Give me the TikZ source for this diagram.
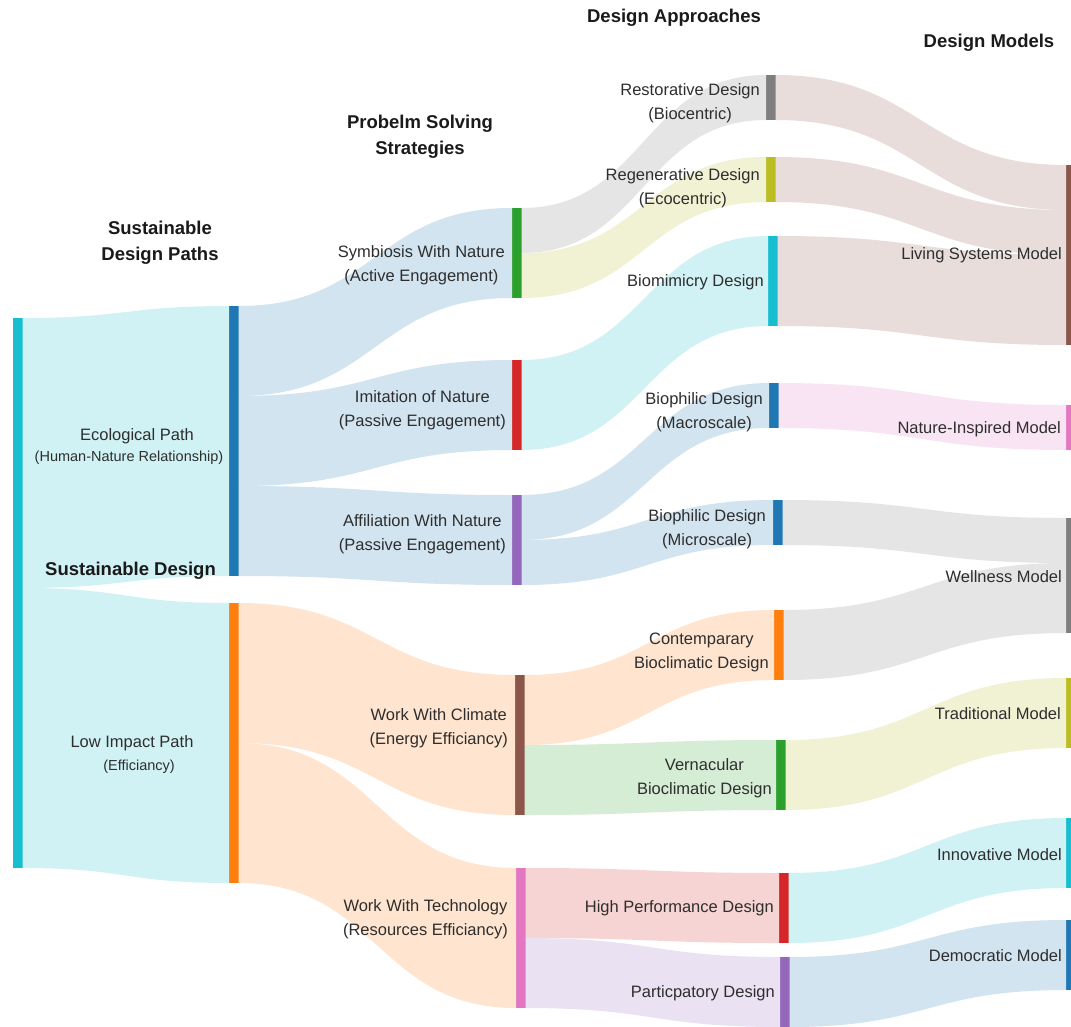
\documentclass[tikz,border=0pt]{standalone}
\usepackage{fontspec}
\setmainfont{Liberation Sans}
\usetikzlibrary{calc}
\definecolor{cC}{HTML}{17BECF}
\definecolor{cB}{HTML}{1F77B4}
\definecolor{cO}{HTML}{FF7F0E}
\definecolor{cG}{HTML}{2CA02C}
\definecolor{cR}{HTML}{D62728}
\definecolor{cP}{HTML}{9467BD}
\definecolor{cBr}{HTML}{8C564B}
\definecolor{cPk}{HTML}{E377C2}
\definecolor{cGy}{HTML}{7F7F7F}
\definecolor{cOl}{HTML}{BCBD22}
\definecolor{txt}{HTML}{2E2E2E}
\definecolor{hd}{HTML}{1A1A1A}
\tikzset{
  bar/.style={rectangle, inner sep=0pt, outer sep=0pt, minimum width=9.5pt, draw=none},
  lbl/.style={font=\fontsize{16.5}{24}\selectfont, text=txt, align=center, inner sep=0pt},
  sublbl/.style={font=\fontsize{14.5}{20}\selectfont, text=txt, align=center, inner sep=0pt},
  hdr/.style={font=\bfseries\fontsize{18.5}{26}\selectfont, text=hd, align=center, inner sep=0pt},
}
% bar: name, colour, left x, top y, bottom y
\newcommand\sbar[5]{\node[bar, fill=#2, minimum height={(#5-#4)*1pt}] (#1) at ({#3+4.75},{(#4+#5)/2}) {};}
% flow: source, offset on source, target, offset on target, width, colour
\newcommand\sflow[6]{%
  \fill[#6] let \p1=(#1.north east), \p2=(#3.north west) in
   (\x1,\y1-#2pt) .. controls ({(\x1+\x2)/2},\y1-#2pt) and ({(\x1+\x2)/2},\y2-#4pt) .. (\x2,\y2-#4pt)
   -- (\x2,\y2-#4pt-#5pt) .. controls ({(\x1+\x2)/2},\y2-#4pt-#5pt) and ({(\x1+\x2)/2},\y1-#2pt-#5pt) .. (\x1,\y1-#2pt-#5pt) -- cycle;}
\begin{document}
\begin{tikzpicture}[x=1pt,y=-1pt]
\useasboundingbox[fill=white] (0,0) rectangle (1071,1026);
% bars
\sbar{sd}{cC}{13}{318}{868}
\sbar{eco}{cB}{229}{306}{576}
\sbar{low}{cO}{229}{603}{883}
\sbar{sym}{cG}{512}{208}{298}
\sbar{imi}{cR}{512}{360}{450}
\sbar{aff}{cP}{512}{495}{585}
\sbar{clim}{cBr}{515}{675}{815}
\sbar{tech}{cPk}{516}{868}{1008}
\sbar{rest}{cGy}{766}{75}{120}
\sbar{regen}{cOl}{766}{157}{202}
\sbar{bio}{cC}{768}{236}{326}
\sbar{macro}{cB}{769}{383}{428}
\sbar{micro}{cB}{773}{500}{545}
\sbar{cont}{cO}{774}{610}{680}
\sbar{vern}{cG}{776}{740}{810}
\sbar{hp}{cR}{779}{873}{943}
\sbar{part}{cP}{780}{957}{1027}
\sbar{living}{cBr}{1066}{165}{345}
\sbar{nat}{cPk}{1066}{405}{450}
\sbar{well}{cGy}{1066}{518}{633}
\sbar{trad}{cOl}{1066}{678}{748}
\sbar{innov}{cC}{1066}{818}{888}
\sbar{dem}{cB}{1066}{920}{990}
% flows
\sflow{sd}{0}{eco}{0}{270}{cC!20!white}
\sflow{sd}{270}{low}{0}{280}{cC!20!white}
\sflow{eco}{0}{sym}{0}{90}{cB!20!white}
\sflow{eco}{90}{imi}{0}{90}{cB!20!white}
\sflow{eco}{180}{aff}{0}{90}{cB!20!white}
\sflow{low}{0}{clim}{0}{140}{cO!20!white}
\sflow{low}{140}{tech}{0}{140}{cO!20!white}
\sflow{sym}{0}{rest}{0}{45}{cGy!20!white}
\sflow{sym}{45}{regen}{0}{45}{cOl!20!white}
\sflow{imi}{0}{bio}{0}{90}{cC!20!white}
\sflow{aff}{0}{macro}{0}{45}{cB!20!white}
\sflow{aff}{45}{micro}{0}{45}{cB!20!white}
\sflow{clim}{0}{cont}{0}{70}{cO!20!white}
\sflow{clim}{70}{vern}{0}{70}{cG!20!white}
\sflow{tech}{0}{hp}{0}{70}{cR!20!white}
\sflow{tech}{70}{part}{0}{70}{cP!20!white}
\sflow{rest}{0}{living}{0}{45}{cBr!20!white}
\sflow{regen}{0}{living}{45}{45}{cBr!20!white}
\sflow{bio}{0}{living}{90}{90}{cBr!20!white}
\sflow{macro}{0}{nat}{0}{45}{cPk!20!white}
\sflow{micro}{0}{well}{0}{45}{cGy!20!white}
\sflow{cont}{0}{well}{45}{70}{cGy!20!white}
\sflow{vern}{0}{trad}{0}{70}{cOl!20!white}
\sflow{hp}{0}{innov}{0}{70}{cC!20!white}
\sflow{part}{0}{dem}{0}{70}{cB!20!white}
% headers
\node[hdr] (h1) at (160,243) {Sustainable\\Design Paths};
\node[hdr] (h2) at (420,137) {Probelm Solving\\Strategies};
\node[hdr] (h3) at (674,18) {Design Approaches};
\node[hdr] (h4) at (989,43) {Design Models};
\node[hdr, anchor=base west] (tsd) at (45,575) {Sustainable Design};
% column 1 labels
\node[lbl] (teco) at (137,436) {Ecological Path};
\node[sublbl] (teco2) at (129,458) {(Human-Nature Relationship)};
\node[lbl] (tlow) at (132,743) {Low Impact Path};
\node[sublbl] (tlow2) at (139,767) {(Efficiancy)};
% column 2 labels
\node[lbl, anchor=east] (tsym) at (505,265) {Symbiosis With Nature\\(Active Engagement)};
\node[lbl, anchor=east] (timi) at (506,410) {Imitation of Nature\\(Passive Engagement)};
\node[lbl, anchor=east] (taff) at (506,534) {Affiliation With Nature\\(Passive Engagement)};
\node[lbl, anchor=east] (tclim) at (508,728) {Work With Climate\\(Energy Efficiancy)};
\node[lbl, anchor=east] (ttech) at (508,919) {Work With Technology\\(Resources Efficiancy)};
% column 3 labels
\node[lbl, anchor=east] (trest) at (760,103) {Restorative Design\\(Biocentric)};
\node[lbl, anchor=east] (tregen) at (760,188) {Regenerative Design\\(Ecocentric)};
\node[lbl, anchor=east] (tbio) at (764,282) {Biomimicry Design};
\node[lbl, anchor=east] (tmacro) at (763,412) {Biophilic Design\\(Macroscale)};
\node[lbl, anchor=east] (tmicro) at (766,529) {Biophilic Design\\(Microscale)};
\node[lbl, anchor=east] (tcont) at (769,652) {Contemparary\\Bioclimatic Design};
\node[lbl, anchor=east] (tvern) at (772,778) {Vernacular\\Bioclimatic Design};
\node[lbl, anchor=east] (thp) at (774,908) {High Performance Design};
\node[lbl, anchor=east] (tpart) at (775,993) {Particpatory Design};
% column 4 labels
\node[lbl, anchor=east] (tliving) at (1062,255) {Living Systems Model};
\node[lbl, anchor=east] (tnat) at (1061,429) {Nature-Inspired Model};
\node[lbl, anchor=east] (twell) at (1062,577) {Wellness Model};
\node[lbl, anchor=east] (ttrad) at (1061,714) {Traditional Model};
\node[lbl, anchor=east] (tinnov) at (1062,855) {Innovative Model};
\node[lbl, anchor=east] (tdem) at (1062,956) {Democratic Model};
\end{tikzpicture}
\end{document}
